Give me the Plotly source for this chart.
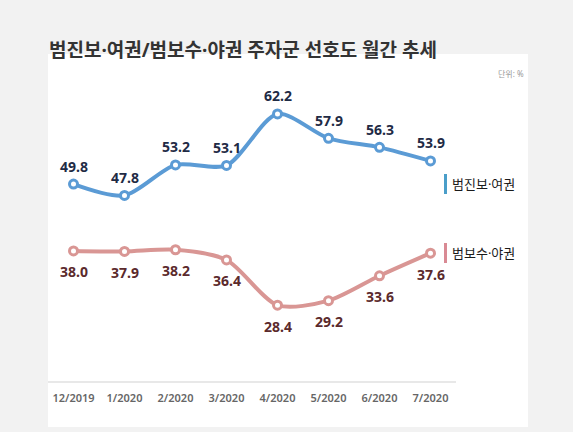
import plotly.graph_objects as go

months = ["12/2019", "1/2020", "2/2020", "3/2020", "4/2020", "5/2020", "6/2020", "7/2020"]
progressive = [49.8, 47.8, 53.2, 53.1, 62.2, 57.9, 56.3, 53.9]
conservative = [38.0, 37.9, 38.2, 36.4, 28.4, 29.2, 33.6, 37.6]
series_names = ["범진보·여권", "범보수·야권"]
title_text = "범진보·여권/범보수·야권 주자군 선호도 월간 추세"
unit_text = "단위: %"

BLUE = "#5b9bd5"
RED = "#d99694"
BLUE_LBL = "#1f2b45"
RED_LBL = "#5b2a2c"
KFONT = "Noto Sans, Noto Sans CJK KR"
NFONT = "Noto Sans"

W, H = 573, 432
L, R, T, B = 48, 117, 54, 51
pw, ph = W - L - R, H - T - B


def px(xp):
    return (xp - L) / pw


def py(yp):
    return (H - B - yp) / ph


fig = go.Figure()
for vals, col in [(progressive, BLUE), (conservative, RED)]:
    fig.add_trace(go.Scatter(
        x=months, y=vals, mode="lines+markers",
        line=dict(color=col, width=4, shape="spline", smoothing=0.8),
        marker=dict(size=8, color="white", line=dict(color=col, width=3)),
        hoverinfo="skip", showlegend=False,
    ))

annotations = []
for m, v in zip(months, progressive):
    annotations.append(dict(x=m, y=v, xref="x", yref="y", text=f"{v:.1f}", showarrow=False,
                            yshift=18, font=dict(family=NFONT, size=14, color=BLUE_LBL, weight="bold")))
for m, v in zip(months, conservative):
    annotations.append(dict(x=m, y=v, xref="x", yref="y", text=f"{v:.1f}", showarrow=False,
                            yshift=-21, font=dict(family=NFONT, size=14, color=RED_LBL, weight="bold")))

annotations.append(dict(x=px(47), y=py(50), xref="paper", yref="paper", text=title_text,
                        showarrow=False, xanchor="left", yanchor="middle",
                        font=dict(family=KFONT, size=19, color="#333333", weight="bold")))
annotations.append(dict(x=px(526), y=py(73), xref="paper", yref="paper", text=unit_text,
                        showarrow=False, xanchor="right", yanchor="middle",
                        font=dict(family=KFONT, size=8, color="#999999")))
for name, yc in [(series_names[0], 184), (series_names[1], 253)]:
    annotations.append(dict(x=px(450), y=py(yc), xref="paper", yref="paper", text=name,
                            showarrow=False, xanchor="left", yanchor="middle",
                            font=dict(family=KFONT, size=13, color="#1a1a1a")))

shapes = [
    dict(type="rect", xref="paper", yref="paper", x0=px(48), x1=px(528), y0=py(427), y1=py(54),
         fillcolor="white", line=dict(width=0), layer="below"),
    dict(type="rect", xref="paper", yref="paper", x0=px(444), x1=px(447), y0=py(194), y1=py(174),
         fillcolor="#4a9ec9", line=dict(width=0)),
    dict(type="rect", xref="paper", yref="paper", x0=px(444), x1=px(447), y0=py(263), y1=py(243),
         fillcolor="#d98a94", line=dict(width=0)),
]

fig.update_layout(
    width=W, height=H,
    margin=dict(l=L, r=R, t=T, b=B),
    paper_bgcolor="#f2f2f2", plot_bgcolor="white",
    annotations=annotations, shapes=shapes,
    xaxis=dict(type="category", range=[-0.5, 7.5], showgrid=False, zeroline=False,
               showline=True, linecolor="#e8e8e8", linewidth=2, ticks="",
               ticklabelstandoff=6,
               tickfont=dict(family=NFONT, size=11, color="#666666", weight=600)),
    yaxis=dict(range=[15, 72.8], showgrid=False, zeroline=False, showticklabels=False,
               showline=False),
)

fig.write_html("out.html", config={"displayModeBar": False},
               post_script="document.body.style.margin='0';")
